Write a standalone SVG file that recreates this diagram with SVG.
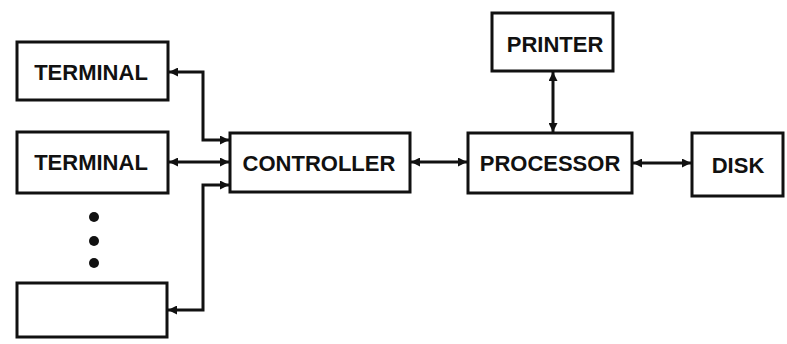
<svg xmlns="http://www.w3.org/2000/svg" width="787" height="344" viewBox="0 0 787 344">
<style>
.box{fill:#fff;stroke:#111;stroke-width:3}
.lbl{font-family:"Liberation Sans",Arial,sans-serif;font-weight:bold;font-size:22px;fill:#111;text-anchor:middle}
.wire{fill:none;stroke:#111;stroke-width:3;marker-start:url(#ah);marker-end:url(#ah)}
</style>
<defs>
<marker id="ah" viewBox="0 0 10 10" refX="10" refY="5" markerWidth="10" markerHeight="9" markerUnits="userSpaceOnUse" orient="auto-start-reverse">
<path d="M0,0 L10,5 L0,10 z" fill="#111"/>
</marker>
</defs>
<rect width="787" height="344" fill="#fff"/>
<g id="connectors">
<path class="wire" d="M229,140 H203 V72 H169"/>
<path class="wire" d="M169,162 H229"/>
<path class="wire" d="M229,185 H203 V310 H168"/>
<path class="wire" d="M411,162 H467"/>
<path class="wire" d="M553,72 V132"/>
<path class="wire" d="M633,163 H691"/>
</g>
<g id="terminal1"><rect class="box" x="17" y="42" width="151" height="58"/><text class="lbl" x="91" y="80">TERMINAL</text></g>
<g id="terminal2"><rect class="box" x="17" y="132" width="151" height="61"/><text class="lbl" x="91" y="170">TERMINAL</text></g>
<g id="dots"><circle cx="94" cy="217" r="5" fill="#111"/><circle cx="94" cy="241" r="5" fill="#111"/><circle cx="94" cy="263" r="5" fill="#111"/></g>
<g id="terminal3"><rect class="box" x="17" y="283" width="150" height="54"/></g>
<g id="controller"><rect class="box" x="230" y="133" width="180" height="59"/><text class="lbl" x="319" y="171">CONTROLLER</text></g>
<g id="processor"><rect class="box" x="468" y="133" width="164" height="60"/><text class="lbl" x="550" y="171">PROCESSOR</text></g>
<g id="printer"><rect class="box" x="492" y="13" width="121" height="58"/><text class="lbl" x="555" y="52">PRINTER</text></g>
<g id="disk"><rect class="box" x="692" y="133" width="91" height="63"/><text class="lbl" x="738" y="173">DISK</text></g>
</svg>
